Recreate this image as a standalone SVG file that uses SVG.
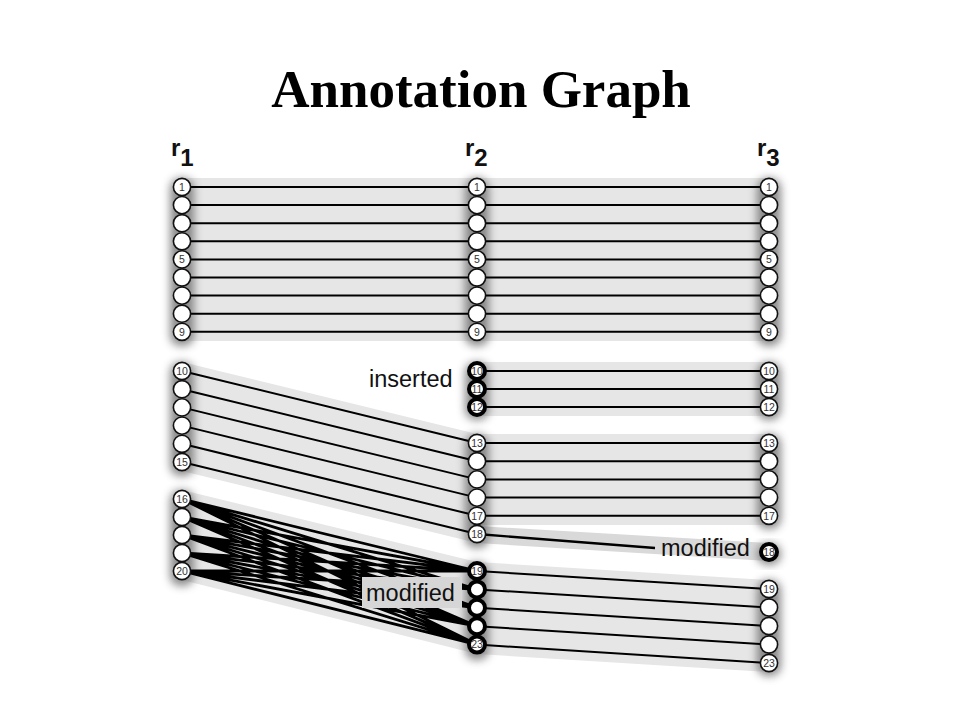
<svg xmlns="http://www.w3.org/2000/svg" width="960" height="720" viewBox="0 0 960 720">
<defs>
<filter id="blur" x="-50%" y="-20%" width="200%" height="140%"><feGaussianBlur stdDeviation="4"/></filter>
<style>
.band{fill:#e6e6e6}
.shadow{fill:#666;opacity:0.75;filter:url(#blur)}
.n{fill:#fff;stroke:#111;stroke-width:1.6}
.m{fill:#fff;stroke:#000;stroke-width:4}
.num{font-family:"Liberation Sans",Arial,sans-serif;font-size:10.5px;fill:#333;text-anchor:middle}
.e{stroke:#000;stroke-width:2;fill:none}
.x{stroke:#000;stroke-width:2.8;fill:none}
.lab{font-family:"Liberation Sans",Arial,sans-serif;font-size:23.5px;fill:#111}
.col{font-family:"Liberation Sans",Arial,sans-serif;font-size:24px;font-weight:bold;fill:#111}
</style>
</defs>
<rect width="960" height="720" fill="#fff"/>
<text x="481" y="107" text-anchor="middle" font-family="Liberation Serif,'Times New Roman',serif" font-weight="bold" font-size="53" fill="#000">Annotation Graph</text>
<g id="col-labels">
<text class="col" x="171" y="156">r<tspan dy="10">1</tspan></text>
<text class="col" x="465" y="156">r<tspan dy="10">2</tspan></text>
<text class="col" x="757" y="156">r<tspan dy="10">3</tspan></text>
</g>
<g id="bands">
<polygon class="band" points="182,178 769,178 769,341 182,341"/>
<polygon class="band" points="182,362 477,434 477,543 182,471"/>
<polygon class="band" points="477,362 769,362 769,416 477,416"/>
<polygon class="band" points="477,434 769,434 769,525 477,525"/>
<polygon class="band" points="477,526 769,543 769,561 477,543" style="fill:#d9d9d9"/>
<polygon class="band" points="182,490 477,562 477,654 182,580"/>
<polygon class="band" points="477,562 769,580 769,672 477,654"/>
</g>
<g id="shadows">
<rect class="shadow" x="170" y="178" width="24" height="168" rx="10"/>
<rect class="shadow" x="170" y="362" width="24" height="114" rx="10"/>
<rect class="shadow" x="170" y="490" width="24" height="96" rx="10"/>
<rect class="shadow" x="465" y="178" width="24" height="168" rx="10"/>
<rect class="shadow" x="465" y="362" width="24" height="58" rx="10"/>
<rect class="shadow" x="465" y="434" width="24" height="114" rx="10"/>
<rect class="shadow" x="465" y="562" width="24" height="98" rx="10"/>
<rect class="shadow" x="757" y="178" width="24" height="168" rx="10"/>
<rect class="shadow" x="757" y="362" width="24" height="58" rx="10"/>
<rect class="shadow" x="757" y="434" width="24" height="95" rx="10"/>
<rect class="shadow" x="757" y="543" width="24" height="22" rx="10"/>
<rect class="shadow" x="757" y="580" width="24" height="96" rx="10"/>
</g>
<g id="connectors">
<path class="e" d="M182,187H769M182,205.1H769M182,223.2H769M182,241.3H769M182,259.4H769M182,277.5H769M182,295.6H769M182,313.7H769M182,331.8H769"/>
<path class="e" d="M182,371L477,443M182,389.2L477,461.2M182,407.4L477,479.4M182,425.6L477,497.6M182,443.8L477,515.8M182,462L477,534"/>
<path class="e" d="M477,371H769M477,389H769M477,407H769"/>
<path class="e" d="M477,443H769M477,461.2H769M477,479.4H769M477,497.6H769M477,515.8H769"/>
<path class="e" d="M477,534L655,548" style="stroke-width:2.4"/>
<path class="e" d="M477,571L769,589M477,589.4L769,607.5M477,607.8L769,626M477,626.2L769,644.5M477,644.6L769,663"/>
<path class="x" d="M182,499L477,571M182,499L477,589.4M182,499L477,607.8M182,499L477,626.2M182,499L477,644.6
M182,517L477,571M182,517L477,589.4M182,517L477,607.8M182,517L477,626.2M182,517L477,644.6
M182,535L477,571M182,535L477,589.4M182,535L477,607.8M182,535L477,626.2M182,535L477,644.6
M182,553L477,571M182,553L477,589.4M182,553L477,607.8M182,553L477,626.2M182,553L477,644.6
M182,571L477,571M182,571L477,589.4M182,571L477,607.8M182,571L477,626.2M182,571L477,644.6"/>
</g>
<g id="labels">
<text class="lab" x="369" y="387">inserted</text>
<rect x="362" y="577" width="100" height="31" fill="#d6d6d6"/>
<text class="lab" x="366" y="601">modified</text>
<text class="lab" x="661" y="556">modified</text>
</g>
<g id="r1">
<g id="r1-1"><circle class="n" cx="182" cy="187" r="8.6"/><text class="num" x="182" y="190.7">1</text></g>
<g id="r1-2"><circle class="n" cx="182" cy="205.1" r="8.6"/></g>
<g id="r1-3"><circle class="n" cx="182" cy="223.2" r="8.6"/></g>
<g id="r1-4"><circle class="n" cx="182" cy="241.3" r="8.6"/></g>
<g id="r1-5"><circle class="n" cx="182" cy="259.4" r="8.6"/><text class="num" x="182" y="263.1">5</text></g>
<g id="r1-6"><circle class="n" cx="182" cy="277.5" r="8.6"/></g>
<g id="r1-7"><circle class="n" cx="182" cy="295.6" r="8.6"/></g>
<g id="r1-8"><circle class="n" cx="182" cy="313.7" r="8.6"/></g>
<g id="r1-9"><circle class="n" cx="182" cy="331.8" r="8.6"/><text class="num" x="182" y="335.5">9</text></g>
<g id="r1-10"><circle class="n" cx="182" cy="371" r="8.6"/><text class="num" x="182" y="374.7">10</text></g>
<g id="r1-11"><circle class="n" cx="182" cy="389.2" r="8.6"/></g>
<g id="r1-12"><circle class="n" cx="182" cy="407.4" r="8.6"/></g>
<g id="r1-13"><circle class="n" cx="182" cy="425.6" r="8.6"/></g>
<g id="r1-14"><circle class="n" cx="182" cy="443.8" r="8.6"/></g>
<g id="r1-15"><circle class="n" cx="182" cy="462" r="8.6"/><text class="num" x="182" y="465.7">15</text></g>
<g id="r1-16"><circle class="n" cx="182" cy="499" r="8.6"/><text class="num" x="182" y="502.7">16</text></g>
<g id="r1-17"><circle class="n" cx="182" cy="517" r="8.6"/></g>
<g id="r1-18"><circle class="n" cx="182" cy="535" r="8.6"/></g>
<g id="r1-19"><circle class="n" cx="182" cy="553" r="8.6"/></g>
<g id="r1-20"><circle class="n" cx="182" cy="571" r="8.6"/><text class="num" x="182" y="574.7">20</text></g>
</g>
<g id="r2">
<g id="r2-1"><circle class="n" cx="477" cy="187" r="8.6"/><text class="num" x="477" y="190.7">1</text></g>
<g id="r2-2"><circle class="n" cx="477" cy="205.1" r="8.6"/></g>
<g id="r2-3"><circle class="n" cx="477" cy="223.2" r="8.6"/></g>
<g id="r2-4"><circle class="n" cx="477" cy="241.3" r="8.6"/></g>
<g id="r2-5"><circle class="n" cx="477" cy="259.4" r="8.6"/><text class="num" x="477" y="263.1">5</text></g>
<g id="r2-6"><circle class="n" cx="477" cy="277.5" r="8.6"/></g>
<g id="r2-7"><circle class="n" cx="477" cy="295.6" r="8.6"/></g>
<g id="r2-8"><circle class="n" cx="477" cy="313.7" r="8.6"/></g>
<g id="r2-9"><circle class="n" cx="477" cy="331.8" r="8.6"/><text class="num" x="477" y="335.5">9</text></g>
<g id="r2-10"><circle class="m" cx="477" cy="371" r="8"/><text class="num" x="477" y="374.7">10</text></g>
<g id="r2-11"><circle class="m" cx="477" cy="389" r="8"/><text class="num" x="477" y="392.7">11</text></g>
<g id="r2-12"><circle class="m" cx="477" cy="407" r="8"/><text class="num" x="477" y="410.7">12</text></g>
<g id="r2-13"><circle class="n" cx="477" cy="443" r="8.6"/><text class="num" x="477" y="446.7">13</text></g>
<g id="r2-14"><circle class="n" cx="477" cy="461.2" r="8.6"/></g>
<g id="r2-15"><circle class="n" cx="477" cy="479.4" r="8.6"/></g>
<g id="r2-16"><circle class="n" cx="477" cy="497.6" r="8.6"/></g>
<g id="r2-17"><circle class="n" cx="477" cy="515.8" r="8.6"/><text class="num" x="477" y="519.5">17</text></g>
<g id="r2-18"><circle class="n" cx="477" cy="534" r="8.6"/><text class="num" x="477" y="537.7">18</text></g>
<g id="r2-19"><circle class="m" cx="477" cy="571" r="8"/><text class="num" x="477" y="574.7">19</text></g>
<g id="r2-20"><circle class="m" cx="477" cy="589.4" r="8"/></g>
<g id="r2-21"><circle class="m" cx="477" cy="607.8" r="8"/></g>
<g id="r2-22"><circle class="m" cx="477" cy="626.2" r="8"/></g>
<g id="r2-23"><circle class="m" cx="477" cy="644.6" r="8"/><text class="num" x="477" y="648.3">23</text></g>
</g>
<g id="r3">
<g id="r3-1"><circle class="n" cx="769" cy="187" r="8.6"/><text class="num" x="769" y="190.7">1</text></g>
<g id="r3-2"><circle class="n" cx="769" cy="205.1" r="8.6"/></g>
<g id="r3-3"><circle class="n" cx="769" cy="223.2" r="8.6"/></g>
<g id="r3-4"><circle class="n" cx="769" cy="241.3" r="8.6"/></g>
<g id="r3-5"><circle class="n" cx="769" cy="259.4" r="8.6"/><text class="num" x="769" y="263.1">5</text></g>
<g id="r3-6"><circle class="n" cx="769" cy="277.5" r="8.6"/></g>
<g id="r3-7"><circle class="n" cx="769" cy="295.6" r="8.6"/></g>
<g id="r3-8"><circle class="n" cx="769" cy="313.7" r="8.6"/></g>
<g id="r3-9"><circle class="n" cx="769" cy="331.8" r="8.6"/><text class="num" x="769" y="335.5">9</text></g>
<g id="r3-10"><circle class="n" cx="769" cy="371" r="8.6"/><text class="num" x="769" y="374.7">10</text></g>
<g id="r3-11"><circle class="n" cx="769" cy="389" r="8.6"/><text class="num" x="769" y="392.7">11</text></g>
<g id="r3-12"><circle class="n" cx="769" cy="407" r="8.6"/><text class="num" x="769" y="410.7">12</text></g>
<g id="r3-13"><circle class="n" cx="769" cy="443" r="8.6"/><text class="num" x="769" y="446.7">13</text></g>
<g id="r3-14"><circle class="n" cx="769" cy="461.2" r="8.6"/></g>
<g id="r3-15"><circle class="n" cx="769" cy="479.4" r="8.6"/></g>
<g id="r3-16"><circle class="n" cx="769" cy="497.6" r="8.6"/></g>
<g id="r3-17"><circle class="n" cx="769" cy="515.8" r="8.6"/><text class="num" x="769" y="519.5">17</text></g>
<g id="r3-18"><circle class="m" cx="769" cy="552" r="8"/><text class="num" x="769" y="555.7">18</text></g>
<g id="r3-19"><circle class="n" cx="769" cy="589" r="8.6"/><text class="num" x="769" y="592.7">19</text></g>
<g id="r3-20"><circle class="n" cx="769" cy="607.5" r="8.6"/></g>
<g id="r3-21"><circle class="n" cx="769" cy="626" r="8.6"/></g>
<g id="r3-22"><circle class="n" cx="769" cy="644.5" r="8.6"/></g>
<g id="r3-23"><circle class="n" cx="769" cy="663" r="8.6"/><text class="num" x="769" y="666.7">23</text></g>
</g>
</svg>
